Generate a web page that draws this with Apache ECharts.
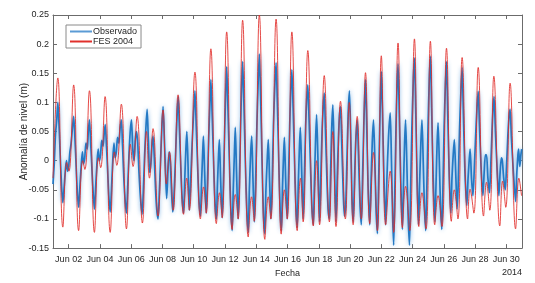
<!DOCTYPE html>
<html>
<head>
<meta charset="utf-8">
<script src="https://cdn.jsdelivr.net/npm/echarts@6/dist/echarts.min.js"></script>
<style>
  html, body { margin: 0; padding: 0; background: #fff; }
</style>
</head>
<body>
<div id="charts" style="width: 535px;height: 283px"></div>
<script>
// x values are day of month (1 = 1 Jun 2014 00:00)
var tickDays = [2, 4, 6, 8, 10, 12, 14, 16, 18, 20, 22, 24, 26, 28, 30];
var yTicks = [-0.15, 0.25, 0.05];   // min, max, step

// Observado (tide gauge)
var observado = [
  [1.00,-0.040],[1.08,-0.005],[1.16,0.045],[1.24,0.070],[1.31,0.100],[1.38,0.065],[1.46,0.010],[1.55,-0.045],[1.63,-0.072],
  [1.70,-0.050],[1.78,-0.020],[1.86,0.000],[1.93,-0.018],[2.00,-0.010],[2.08,0.015],[2.16,0.030],[2.24,0.055],[2.32,0.076],
  [2.40,0.040],[2.48,-0.010],[2.56,-0.055],[2.64,-0.080],
  [2.72,-0.045],[2.80,-0.010],[2.88,0.015],[2.95,-0.005],[3.03,0.005],[3.11,0.030],[3.19,0.020],[3.26,0.050],[3.33,0.070],
  [3.41,0.030],[3.50,-0.020],[3.58,-0.060],[3.65,-0.083],
  [3.73,-0.045],[3.81,-0.005],[3.89,0.020],[3.96,0.000],[4.04,0.010],[4.12,0.035],[4.20,0.025],[4.27,0.045],[4.34,0.062],
  [4.42,0.025],[4.50,-0.020],[4.58,-0.065],[4.66,-0.088],
  [4.74,-0.050],[4.82,0.000],[4.90,0.030],[4.97,0.005],[5.05,0.015],[5.13,0.040],[5.21,0.030],[5.29,0.055],[5.37,0.070],
  [5.45,0.025],[5.53,-0.030],[5.62,-0.070],[5.70,-0.090],
  [5.78,-0.045],[5.86,0.010],[5.94,0.050],[6.02,0.070],[6.10,0.020],[6.18,0.000],[6.26,0.035],[6.34,0.050],[6.42,0.030],
  [6.50,-0.020],[6.60,-0.065],[6.70,-0.092],
  [6.78,-0.050],[6.86,0.010],[6.94,0.055],[7.02,0.088],[7.10,0.035],[7.18,-0.020],[7.26,-0.005],[7.34,0.030],[7.40,0.042],
  [7.48,0.005],[7.56,-0.050],[7.64,-0.085],[7.72,-0.100],
  [7.80,-0.055],[7.88,0.000],[7.96,0.055],[8.04,0.093],[8.12,0.040],[8.20,-0.020],[8.27,-0.065],[8.35,-0.020],[8.43,0.015],
  [8.50,0.000],[8.58,-0.050],[8.66,-0.088],[8.72,-0.070],
  [8.80,-0.020],[8.88,0.040],[8.95,0.085],[9.01,0.110],[9.08,0.060],[9.16,0.000],[9.25,-0.060],[9.35,-0.090],[9.43,-0.030],
  [9.50,0.020],[9.56,0.050],[9.63,0.000],[9.72,-0.085],
  [9.80,-0.040],[9.90,0.030],[10.00,0.085],[10.08,0.120],[10.16,0.060],[10.25,-0.010],[10.34,-0.070],[10.43,-0.095],
  [10.50,-0.040],[10.57,0.010],[10.62,0.042],[10.70,-0.020],[10.80,-0.090],
  [10.88,-0.040],[10.96,0.040],[11.04,0.100],[11.10,0.139],[11.18,0.080],[11.27,0.000],[11.36,-0.070],[11.45,-0.100],
  [11.52,-0.040],[11.59,0.010],[11.64,0.036],[11.72,-0.030],[11.82,-0.098],
  [11.90,-0.040],[11.98,0.050],[12.05,0.120],[12.11,0.161],[12.19,0.090],[12.28,0.000],[12.37,-0.080],[12.46,-0.120],
  [12.53,-0.050],[12.60,0.010],[12.66,0.057],[12.74,-0.020],[12.84,-0.100],
  [12.92,-0.040],[13.00,0.060],[13.07,0.130],[13.13,0.170],[13.21,0.100],[13.30,0.000],[13.40,-0.085],[13.49,-0.123],
  [13.56,-0.050],[13.64,0.010],[13.71,0.042],[13.79,-0.030],[13.88,-0.105],
  [13.96,-0.040],[14.04,0.060],[14.13,0.140],[14.20,0.183],[14.28,0.110],[14.37,0.000],[14.46,-0.090],[14.55,-0.125],
  [14.62,-0.050],[14.70,0.000],[14.77,0.036],[14.85,-0.030],[14.94,-0.100],
  [15.02,-0.040],[15.10,0.060],[15.19,0.130],[15.27,0.168],[15.35,0.100],[15.44,0.000],[15.53,-0.085],[15.61,-0.120],
  [15.68,-0.045],[15.75,0.010],[15.80,0.040],[15.88,-0.030],[15.98,-0.100],
  [16.06,-0.035],[16.14,0.060],[16.21,0.120],[16.28,0.156],[16.36,0.090],[16.45,0.000],[16.54,-0.080],[16.62,-0.115],
  [16.69,-0.040],[16.76,0.020],[16.82,0.057],[16.90,-0.010],[17.00,-0.100],
  [17.08,-0.030],[17.16,0.060],[17.23,0.105],[17.30,0.130],[17.38,0.070],[17.47,-0.010],[17.56,-0.080],[17.65,-0.110],
  [17.72,-0.040],[17.79,0.030],[17.86,0.079],[17.94,0.010],[18.05,-0.105],
  [18.13,-0.030],[18.21,0.050],[18.28,0.090],[18.35,0.116],[18.43,0.050],[18.52,-0.030],[18.60,-0.085],[18.68,-0.100],
  [18.75,-0.030],[18.82,0.050],[18.90,0.096],[18.98,0.020],[19.10,-0.105],
  [19.18,-0.030],[19.26,0.040],[19.33,0.080],[19.39,0.093],[19.47,0.030],[19.56,-0.050],[19.64,-0.095],[19.72,-0.080],
  [19.80,0.000],[19.88,0.080],[19.96,0.120],[20.04,0.050],[20.12,-0.060],[20.20,-0.105],
  [20.28,-0.040],[20.36,0.030],[20.46,0.070],[20.54,0.010],[20.63,-0.070],[20.72,-0.110],[20.80,-0.030],[20.88,0.060],
  [20.94,0.110],[20.99,0.139],[21.06,0.070],[21.15,-0.040],[21.26,-0.110],
  [21.34,-0.040],[21.42,0.030],[21.50,0.070],[21.58,0.010],[21.66,-0.080],[21.75,-0.125],[21.82,-0.050],[21.90,0.060],
  [21.96,0.120],[22.00,0.153],[22.08,0.080],[22.17,-0.030],[22.28,-0.110],
  [22.36,-0.030],[22.46,0.040],[22.57,0.082],[22.65,0.000],[22.72,-0.090],[22.79,-0.145],[22.86,-0.060],[22.94,0.060],
  [23.01,0.130],[23.07,0.166],[23.15,0.080],[23.25,-0.040],[23.35,-0.118],
  [23.42,-0.040],[23.49,0.030],[23.55,0.070],[23.63,0.000],[23.71,-0.090],[23.80,-0.145],[23.87,-0.060],[23.95,0.050],
  [24.05,0.140],[24.12,0.176],[24.20,0.090],[24.29,-0.030],[24.38,-0.110],
  [24.45,-0.040],[24.53,0.030],[24.60,0.070],[24.68,0.000],[24.76,-0.080],[24.84,-0.120],[24.91,-0.050],[24.99,0.060],
  [25.07,0.140],[25.14,0.179],[25.22,0.090],[25.32,-0.030],[25.43,-0.105],
  [25.50,-0.040],[25.57,0.030],[25.63,0.065],[25.71,0.000],[25.79,-0.080],[25.87,-0.118],[25.94,-0.050],[26.02,0.060],
  [26.10,0.130],[26.17,0.170],[26.25,0.080],[26.35,-0.030],[26.45,-0.090],
  [26.52,-0.030],[26.60,0.010],[26.67,0.036],[26.76,-0.020],[26.85,-0.083],[26.92,-0.040],[27.00,0.050],[27.08,0.110],
  [27.17,0.160],[27.25,0.080],[27.35,-0.020],[27.47,-0.077],
  [27.55,-0.030],[27.62,0.000],[27.68,0.020],[27.77,-0.030],[27.86,-0.060],[27.94,-0.020],[28.03,0.040],[28.12,0.090],
  [28.20,0.119],[28.28,0.060],[28.38,-0.010],[28.50,-0.060],
  [28.58,-0.020],[28.66,0.010],[28.73,0.010],[28.82,-0.030],[28.92,-0.055],[29.00,-0.010],[29.08,0.050],[29.15,0.090],
  [29.21,0.110],[29.30,0.050],[29.40,-0.010],[29.52,-0.060],
  [29.60,-0.020],[29.68,0.005],[29.74,0.000],[29.83,-0.030],[29.93,-0.050],[30.01,-0.010],[30.09,0.040],[30.17,0.075],
  [30.24,0.088],[30.32,0.040],[30.45,-0.020],[30.59,-0.070],
  [30.67,-0.020],[30.74,0.010],[30.78,0.020],[30.86,-0.010],[30.93,0.010],[30.98,0.020]
];

// FES 2004 (model prediction), highs and lows
var fes2004 = [
  [1.00,-0.030],[1.31,0.142],[1.63,-0.114],[1.88,-0.003],[2.02,-0.018],
  [2.32,0.130],[2.64,-0.120],[2.90,0.000],[3.04,-0.015],
  [3.33,0.120],[3.65,-0.123],[3.91,0.005],[4.05,-0.012],
  [4.33,0.110],[4.66,-0.123],[4.93,0.015],[5.08,-0.008],
  [5.37,0.097],[5.70,-0.117],[5.95,0.028],[6.12,-0.010],
  [6.38,0.076],[6.72,-0.107],[6.98,0.050],[7.17,-0.030],
  [7.40,0.055],[7.72,-0.095],[8.04,0.087],[8.25,-0.040],
  [8.45,0.015],[8.69,-0.085],
  [9.00,0.113],[9.35,-0.092],[9.55,-0.030],[9.72,-0.085],
  [10.08,0.152],[10.43,-0.100],[10.63,-0.045],[10.80,-0.090],
  [11.10,0.192],[11.45,-0.108],[11.65,-0.055],[11.82,-0.098],
  [12.11,0.221],[12.46,-0.118],[12.66,-0.058],[12.84,-0.100],
  [13.13,0.241],[13.49,-0.131],[13.70,-0.062],[13.87,-0.104],
  [14.20,0.250],[14.55,-0.135],[14.77,-0.062],[14.93,-0.100],
  [15.27,0.243],[15.60,-0.126],[15.80,-0.050],[15.98,-0.100],
  [16.28,0.221],[16.62,-0.120],[16.83,-0.030],[17.00,-0.105],
  [17.30,0.189],[17.65,-0.112],[17.86,0.000],[18.05,-0.110],
  [18.35,0.146],[18.68,-0.105],[18.90,0.050],[19.10,-0.113],
  [19.39,0.102],[19.70,-0.100],[19.95,0.100],[20.20,-0.110],
  [20.46,0.076],[20.72,-0.100],
  [20.99,0.151],[21.26,-0.108],[21.50,0.014],[21.75,-0.120],
  [22.00,0.180],[22.28,-0.110],[22.57,-0.018],[22.79,-0.123],
  [23.07,0.202],[23.35,-0.115],[23.55,-0.044],[23.82,-0.120],
  [24.12,0.209],[24.40,-0.113],[24.60,-0.055],[24.86,-0.117],
  [25.14,0.205],[25.42,-0.110],[25.63,-0.060],[25.88,-0.113],
  [26.17,0.193],[26.48,-0.104],[26.67,-0.050],[26.90,-0.100],
  [27.17,0.177],[27.52,-0.100],[27.68,-0.049],[27.92,-0.090],
  [28.20,0.160],[28.54,-0.095],[28.73,-0.037],[28.94,-0.085],
  [29.20,0.145],[29.58,-0.112],[29.76,-0.035],[29.96,-0.080],
  [30.24,0.133],[30.59,-0.117],[30.80,-0.030],[30.97,-0.060]
];

var font = 'Liberation Sans';
var axisColor = '#6b6b6b';
var textColor = '#262626';

var chart = echarts.init(document.getElementById('charts'));

function dayLabel(v) {
  return 'Jun ' + (v < 10 ? '0' + v : v);
}

chart.setOption({
  animation: false,
  textStyle: { fontFamily: font },
  grid: { left: 53, right: 13, top: 15, bottom: 34 },
  legend: {
    left: 66, top: 25,
    orient: 'vertical',
    padding: [2, 4, 2, 4],
    itemGap: 1,
    itemWidth: 22, itemHeight: 2,
    icon: 'rect',
    borderColor: '#8a8a8a', borderWidth: 1,
    backgroundColor: '#fff',
    textStyle: { fontFamily: font, fontSize: 9, color: textColor, padding: [0, 0, 0, -4] },
    data: ['Observado', 'FES 2004']
  },
  xAxis: [{
    type: 'value', min: 1, max: 31,
    name: 'Fecha', nameLocation: 'middle', nameGap: 19,
    nameTextStyle: { fontFamily: font, fontSize: 9, color: textColor },
    axisLine: { show: true, onZero: false, lineStyle: { color: axisColor } },
    axisTick: { show: true, inside: true, length: 4, customValues: tickDays, lineStyle: { color: axisColor } },
    axisLabel: { customValues: tickDays, formatter: dayLabel, fontSize: 9, color: textColor, margin: 7 },
    splitLine: { show: false }
  }, {
    type: 'value', min: 1, max: 31, position: 'top',
    axisLine: { show: true, onZero: false, lineStyle: { color: axisColor } },
    axisTick: { show: true, inside: true, length: 4, customValues: tickDays, lineStyle: { color: axisColor } },
    axisLabel: { show: false },
    splitLine: { show: false }
  }],
  yAxis: [{
    type: 'value', min: yTicks[0], max: yTicks[1], interval: yTicks[2],
    name: 'Anomalía de nivel (m)', nameLocation: 'middle', nameGap: 24,
    nameMoveOverlap: false,
    nameTextStyle: { fontFamily: font, fontSize: 10, color: textColor },
    axisLine: { show: true, onZero: false, lineStyle: { color: axisColor } },
    axisTick: { show: true, inside: true, length: 4, lineStyle: { color: axisColor } },
    axisLabel: { fontSize: 9, color: textColor, margin: 4 },
    splitLine: { show: false }
  }, {
    type: 'value', min: yTicks[0], max: yTicks[1], interval: yTicks[2], position: 'right',
    axisLine: { show: true, onZero: false, lineStyle: { color: axisColor } },
    axisTick: { show: true, inside: true, length: 4, lineStyle: { color: axisColor } },
    axisLabel: { show: false },
    splitLine: { show: false }
  }],
  graphic: [{
    type: 'text', right: 13, top: 268,
    style: { text: '2014', fontFamily: font, fontSize: 9, fill: textColor }
  }],
  series: [{
    name: 'Observado',
    type: 'line',
    data: observado,
    showSymbol: false,
    smooth: 0.25,
    color: '#5b9bd5',
    lineStyle: { width: 1.7, color: '#2479c4', shadowBlur: 4, shadowColor: 'rgba(110,170,225,0.9)' }
  }, {
    name: 'FES 2004',
    type: 'line',
    data: fes2004,
    showSymbol: false,
    smooth: 0.45,
    color: '#e0302c',
    lineStyle: { width: 1, color: 'rgba(224,44,40,0.85)' }
  }]
});
</script>
</body>
</html>
